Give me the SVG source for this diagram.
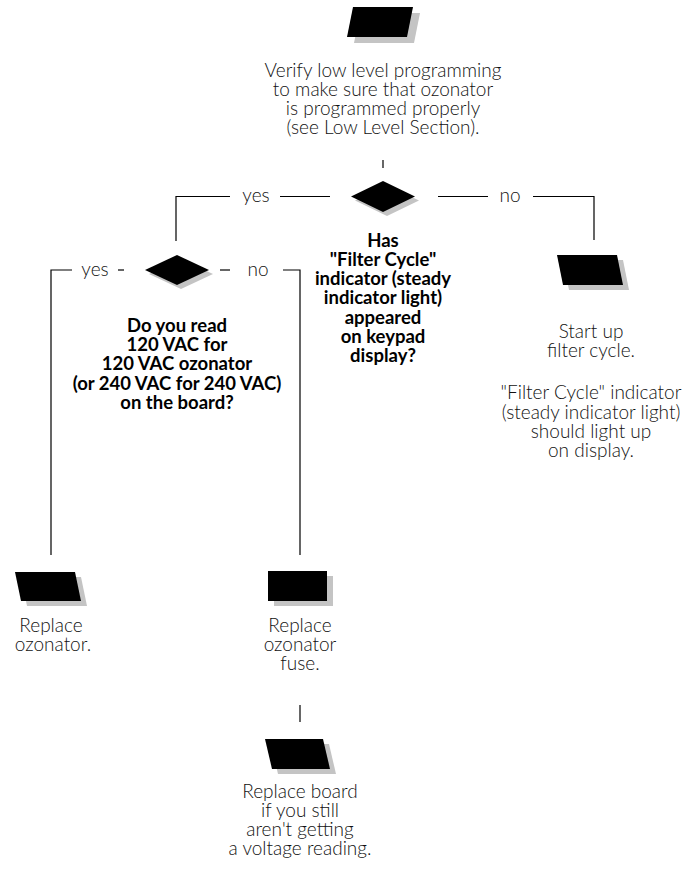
<svg xmlns="http://www.w3.org/2000/svg" width="686" height="879" viewBox="0 0 686 879">
<style>
.bg{fill:#ffffff}
.sh{fill:#c4c4c4}
.blk{fill:#000000}
.ln{fill:none;stroke:#000000;stroke-width:1.2}
.lt{font-family:Lato,"Liberation Sans",sans-serif;font-weight:300;font-size:19px;fill:#111111;text-anchor:middle}
.bd{font-family:Lato,"Liberation Sans",sans-serif;font-weight:700;font-size:18.5px;fill:#000000;text-anchor:middle}
</style>
<rect class="bg" x="0" y="0" width="686" height="879"/>
<g id="connectors">
  <line class="ln" x1="383" y1="160" x2="383" y2="168"/>
  <polyline class="ln" points="330,196.5 280,196.5"/>
  <polyline class="ln" points="230,196.5 176,196.5 176,241"/>
  <text class="lt" x="256" y="202">yes</text>
  <polyline class="ln" points="438,196.5 488,196.5"/>
  <polyline class="ln" points="533,196.5 594,196.5 594,240"/>
  <text class="lt" x="510" y="202">no</text>
  <polyline class="ln" points="124,270 118,270"/>
  <polyline class="ln" points="72,270 51,270 51,555"/>
  <text class="lt" x="95" y="275.5">yes</text>
  <polyline class="ln" points="220,270 230,270"/>
  <polyline class="ln" points="283,270 300,270 300,555"/>
  <text class="lt" x="258" y="275.5">no</text>
  <line class="ln" x1="300" y1="705" x2="300" y2="722"/>
</g>
<g id="node-verify">
  <polygon class="sh" points="360,13 420,13 414,43 354,43"/>
  <polygon class="blk" points="353,7 413,7 407,37 347,37"/>
  <text class="lt" x="383" y="77">Verify low level programming</text>
  <text class="lt" x="383" y="96">to make sure that ozonator</text>
  <text class="lt" x="383" y="115">is programmed properly</text>
  <text class="lt" x="383" y="134">(see Low Level Section).</text>
</g>
<g id="decision-filter-cycle">
  <polygon class="sh" points="387,185 419,200.5 387,216 355,200.5"/>
  <polygon class="blk" points="383,181 415,196.5 383,212 351,196.5"/>
  <text class="bd" x="383" y="247">Has</text>
  <text class="bd" x="383" y="266">"Filter Cycle"</text>
  <text class="bd" x="383" y="285">indicator (steady</text>
  <text class="bd" x="383" y="304">indicator light)</text>
  <text class="bd" x="383" y="324">appeared</text>
  <text class="bd" x="383" y="343">on keypad</text>
  <text class="bd" x="383" y="362">display?</text>
</g>
<g id="decision-voltage">
  <polygon class="sh" points="181,259 213,274 181,289 149,274"/>
  <polygon class="blk" points="177,255 209,270 177,285 145,270"/>
  <text class="bd" x="177" y="332">Do you read</text>
  <text class="bd" x="177" y="351">120 VAC for</text>
  <text class="bd" x="177" y="370">120 VAC ozonator</text>
  <text class="bd" x="177" y="390">(or 240 VAC for 240 VAC)</text>
  <text class="bd" x="177" y="409">on the board?</text>
</g>
<g id="node-start-filter">
  <polygon class="sh" points="563,260 623,260 629,290 569,290"/>
  <polygon class="blk" points="557,255 617,255 623,285 563,285"/>
  <text class="lt" x="591" y="338">Start up</text>
  <text class="lt" x="591" y="357">filter cycle.</text>
  <text class="lt" x="591" y="399">"Filter Cycle" indicator</text>
  <text class="lt" x="591" y="419">(steady indicator light)</text>
  <text class="lt" x="591" y="438">should light up</text>
  <text class="lt" x="591" y="457">on display.</text>
</g>
<g id="node-replace-ozonator">
  <polygon class="sh" points="21,577 81,577 87,606 27,606"/>
  <polygon class="blk" points="15,572 75,572 81,601 21,601"/>
  <text class="lt" x="51" y="632">Replace</text>
  <text class="lt" x="53" y="651">ozonator.</text>
</g>
<g id="node-replace-fuse">
  <rect class="sh" x="274" y="576" width="59" height="30"/>
  <rect class="blk" x="268" y="571" width="59" height="30"/>
  <text class="lt" x="300" y="632">Replace</text>
  <text class="lt" x="300" y="651">ozonator</text>
  <text class="lt" x="300" y="670">fuse.</text>
</g>
<g id="node-replace-board">
  <polygon class="sh" points="271,744 329,744 336,774 278,774"/>
  <polygon class="blk" points="265,739 323,739 330,769 272,769"/>
  <text class="lt" x="300" y="798">Replace board</text>
  <text class="lt" x="300" y="817">if you still</text>
  <text class="lt" x="300" y="836">aren't getting</text>
  <text class="lt" x="300" y="855">a voltage reading.</text>
</g>
</svg>
